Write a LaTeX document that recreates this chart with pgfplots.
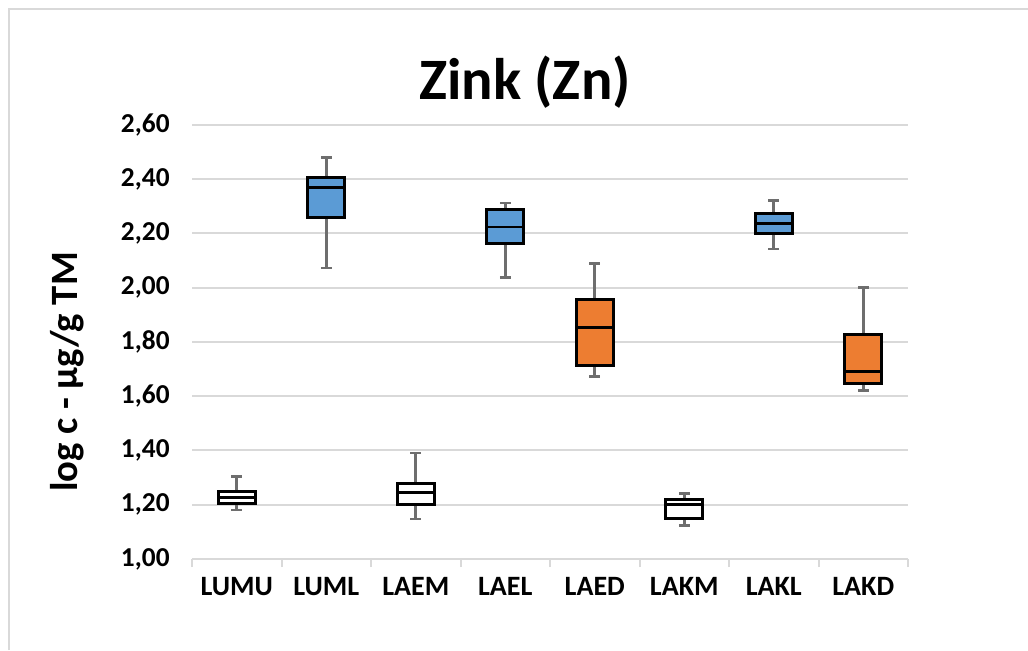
\documentclass[border=0pt]{standalone}
\usepackage{pgfplots}
\pgfplotsset{compat=1.18}
\usepgfplotslibrary{statistics}
\usepackage{fontspec}
\setmainfont{Carlito}
\definecolor{cblue}{HTML}{5B9BD5}
\definecolor{corange}{HTML}{ED7D31}
\definecolor{cgrid}{HTML}{D9D9D9}
\definecolor{cwhisk}{HTML}{6E6E6E}
\begin{document}
\begin{tikzpicture}
\useasboundingbox (0pt,0pt) rectangle (771pt,487.5pt);
\draw[cgrid, line width=1.8pt] (6.75pt,0pt) -- (6.75pt,480.75pt) -- (771pt,480.75pt);
\node[font=\fontsize{44}{50}\selectfont\bfseries, anchor=base] at (393.75pt,412.5pt) {Zink (Zn)};
\node[font=\fontsize{29}{32}\selectfont\bfseries, rotate=90] at (50.25pt,208.5pt) {log c - µg/g TM};
\begin{axis}[
  at={(144pt,68.25pt)}, anchor=south west,
  scale only axis, width=537pt, height=325.5pt,
  xmin=0.5, xmax=8.5, ymin=1, ymax=2.6,
  axis lines*=left,
  y axis line style={draw=none},
  x axis line style={cgrid, line width=1.5pt},
  ytick={1,1.2,...,2.61},
  ytick style={draw=none},
  ymajorgrids, grid style={cgrid, line width=1.5pt},
  xtick={1,...,8},
  xticklabels={LUMU,LUML,LAEM,LAEL,LAED,LAKM,LAKL,LAKD},
  minor xtick={0.5,1.5,...,8.5},
  major x tick style={draw=none},
  minor x tick style={cgrid, line width=1.5pt},
  tick align=outside, minor tick length=6pt,
  /pgf/number format/assume math mode=true,
  /pgf/number format/.cd, fixed, fixed zerofill, precision=2, use comma, /pgfplots/.cd,
  yticklabel style={font=\fontsize{20.5}{23}\selectfont\bfseries, xshift=-9pt},
  xticklabel style={font=\fontsize{21}{24}\selectfont\bfseries, yshift=-6pt},
  boxplot/draw direction=y,
  boxplot/box extend=0.41,
  boxplot/whisker extend=0.12,
  boxplot/every whisker/.style={draw=cwhisk, line width=1.9pt},
  boxplot/every box/.style={draw=black, line width=2.2pt},
  boxplot/every median/.style={draw=black, line width=2.2pt},
]
\addplot[fill=white, boxplot prepared={draw position=1, lower whisker=1.181, lower quartile=1.206, median=1.228, upper quartile=1.248, upper whisker=1.305}] coordinates {};
\addplot[fill=cblue, boxplot prepared={draw position=2, lower whisker=2.072, lower quartile=2.26, median=2.37, upper quartile=2.407, upper whisker=2.48}] coordinates {};
\addplot[fill=white, boxplot prepared={draw position=3, lower whisker=1.148, lower quartile=1.201, median=1.244, upper quartile=1.278, upper whisker=1.39}] coordinates {};
\addplot[fill=cblue, boxplot prepared={draw position=4, lower whisker=2.038, lower quartile=2.164, median=2.224, upper quartile=2.289, upper whisker=2.312}] coordinates {};
\addplot[fill=corange, boxplot prepared={draw position=5, lower whisker=1.673, lower quartile=1.713, median=1.852, upper quartile=1.957, upper whisker=2.089}] coordinates {};
\addplot[fill=white, boxplot prepared={draw position=6, lower whisker=1.123, lower quartile=1.15, median=1.202, upper quartile=1.22, upper whisker=1.242}] coordinates {};
\addplot[fill=cblue, boxplot prepared={draw position=7, lower whisker=2.142, lower quartile=2.20, median=2.237, upper quartile=2.275, upper whisker=2.322}] coordinates {};
\addplot[fill=corange, boxplot prepared={draw position=8, lower whisker=1.622, lower quartile=1.647, median=1.69, upper quartile=1.827, upper whisker=2.00}] coordinates {};
\end{axis}
\end{tikzpicture}
\end{document}
